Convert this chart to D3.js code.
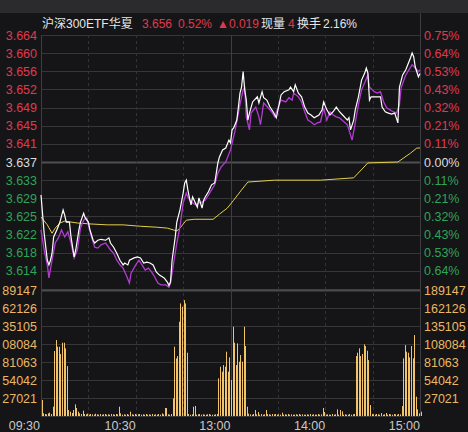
<!DOCTYPE html>
<html><head><meta charset="utf-8">
<script src="https://cdn.jsdelivr.net/npm/d3@7"></script>
<style>
html,body{margin:0;padding:0;background:#151517;overflow:hidden}
svg{display:block}
text{font-family:"Liberation Sans",Arial,"Noto Sans CJK SC",sans-serif}
</style></head><body>
<svg id="c" width="468" height="432"></svg>
<script>
// ---------- data ----------
const prevClose = 3.637;
const maxPct = 0.0075;
const priceTickLabels = ["3.664","3.660","3.656","3.652","3.649","3.645","3.641","3.637","3.633","3.629","3.625","3.622","3.618","3.614"];
const pctTickLabels = ["0.75%","0.64%","0.53%","0.43%","0.32%","0.21%","0.11%","0.00%","0.11%","0.21%","0.32%","0.43%","0.53%","0.64%"];
const volTickValues = [189147,162126,135105,108084,81063,54042,27021];
const timeLabels = ["09:30","10:30","13:00","14:00","15:00"];
const timeLabelMinutes = [0,60,120,180,240];
const gridMinutes = [0,30,60,90,120,150,180,210,240];

// price (white): [minute, price]
const priceSeries = [[0,3.6299],[2,3.6217],[4,3.6159],[5,3.6149],[6,3.6159],[7,3.6174],[8,3.6209],[10,3.6224],[12,3.6241],[14,3.6267],[15,3.6256],[16,3.6241],[18,3.6241],[19,3.6209],[21,3.6166],[22,3.6181],[24,3.6224],[25,3.6241],[27,3.6260],[28,3.6250],[30,3.6241],[31,3.6224],[33,3.6202],[34,3.6196],[36,3.6202],[38,3.6204],[41,3.6202],[43,3.6207],[44,3.6196],[46,3.6187],[48,3.6174],[50,3.6159],[52,3.6149],[53,3.6153],[55,3.6149],[56,3.6159],[59,3.6164],[61,3.6166],[63,3.6164],[65,3.6153],[67,3.6155],[69,3.6153],[71,3.6149],[73,3.6134],[75,3.6127],[78,3.6121],[80,3.6112],[81,3.6105],[82,3.6112],[83,3.6159],[85,3.6209],[86,3.6241],[88,3.6267],[90,3.6303],[91,3.6325],[92,3.6331],[93,3.6310],[94,3.6293],[95,3.6278],[96,3.6295],[97,3.6288],[99,3.6273],[100,3.6293],[101,3.6282],[102,3.6271],[103,3.6288],[104,3.6295],[106,3.6306],[108,3.6321],[110,3.6325],[111,3.6346],[112,3.6368],[113,3.6381],[115,3.6396],[117,3.6400],[119,3.6417],[120,3.6411],[121,3.6439],[122,3.6443],[124,3.6460],[125,3.6488],[126,3.6518],[127,3.6531],[128,3.6564],[129,3.6525],[130,3.6503],[131,3.6460],[132,3.6475],[134,3.6499],[137,3.6510],[138,3.6497],[140,3.6521],[141,3.6508],[143,3.6503],[145,3.6488],[147,3.6478],[149,3.6465],[151,3.6497],[152,3.6514],[154,3.6521],[157,3.6525],[158,3.6531],[160,3.6521],[161,3.6536],[163,3.6518],[165,3.6510],[167,3.6488],[169,3.6475],[171,3.6471],[173,3.6465],[176,3.6471],[178,3.6482],[179,3.6499],[181,3.6482],[183,3.6471],[185,3.6478],[187,3.6488],[189,3.6478],[191,3.6471],[194,3.6460],[195,3.6465],[196,3.6439],[198,3.6460],[199,3.6482],[201,3.6510],[203,3.6546],[205,3.6561],[206,3.6572],[207,3.6561],[208,3.6503],[209,3.6510],[211,3.6510],[215,3.6510],[216,3.6488],[218,3.6478],[220,3.6475],[222,3.6473],[224,3.6475],[226,3.6454],[227,3.6531],[229,3.6557],[231,3.6568],[234,3.6594],[235,3.6604],[236,3.6596],[237,3.6574],[239,3.6553],[240,3.6560]];

// purple reference line: [minute, price]
const iopvSeries = [[0,3.6224],[2,3.6181],[4,3.6149],[5,3.6121],[7,3.6159],[9,3.6196],[11,3.6207],[13,3.6224],[15,3.6209],[17,3.6220],[19,3.6196],[21,3.6164],[23,3.6181],[25,3.6228],[27,3.6245],[29,3.6250],[30,3.6235],[32,3.6209],[34,3.6187],[36,3.6185],[38,3.6192],[41,3.6196],[44,3.6181],[46,3.6174],[48,3.6159],[50,3.6149],[52,3.6142],[54,3.6127],[56,3.6110],[57,3.6131],[60,3.6149],[62,3.6159],[64,3.6149],[66,3.6138],[68,3.6142],[70,3.6134],[72,3.6123],[74,3.6110],[76,3.6106],[79,3.6106],[81,3.6101],[82,3.6110],[84,3.6153],[86,3.6196],[88,3.6230],[90,3.6282],[92,3.6303],[93,3.6295],[95,3.6284],[98,3.6278],[100,3.6282],[102,3.6284],[104,3.6288],[106,3.6299],[108,3.6310],[110,3.6321],[112,3.6346],[114,3.6359],[117,3.6370],[120,3.6396],[123,3.6439],[126,3.6493],[128,3.6525],[129,3.6529],[130,3.6467],[132,3.6439],[133,3.6475],[136,3.6488],[138,3.6467],[139,3.6450],[141,3.6497],[144,3.6486],[146,3.6478],[148,3.6467],[150,3.6486],[152,3.6503],[155,3.6499],[157,3.6508],[159,3.6503],[160,3.6518],[163,3.6510],[165,3.6499],[167,3.6478],[169,3.6460],[171,3.6456],[173,3.6450],[175,3.6454],[177,3.6456],[179,3.6486],[181,3.6460],[183,3.6478],[185,3.6471],[187,3.6467],[189,3.6465],[192,3.6456],[194,3.6450],[195,3.6439],[197,3.6417],[199,3.6454],[201,3.6493],[203,3.6525],[205,3.6540],[207,3.6557],[208,3.6531],[211,3.6521],[213,3.6518],[215,3.6521],[217,3.6499],[219,3.6486],[221,3.6482],[223,3.6478],[225,3.6475],[227,3.6493],[228,3.6529],[231,3.6557],[233,3.6568],[235,3.6579],[237,3.6572],[239,3.6564],[240,3.6568]];

// average price (yellow): [minute, price]
const avgSeries = [[0,3.6252],[4,3.6235],[7,3.6217],[9,3.6228],[12,3.6239],[15,3.6243],[23,3.6239],[31,3.6237],[42,3.6235],[52,3.6235],[63,3.6232],[73,3.6230],[80,3.6228],[84,3.6224],[86,3.6222],[88,3.6228],[92,3.6245],[97,3.6247],[109,3.6247],[113,3.6258],[118,3.6271],[122,3.6288],[127,3.6310],[131,3.6327],[148,3.6331],[177,3.6331],[198,3.6336],[207,3.6368],[226,3.6370],[234,3.6389],[238,3.6400],[240,3.6400]];

// volume per minute (241 values)
const volumes = [
24000,4000,3000,2500,4000,5000,3000,14000,97600,114000,
104000,104000,93000,110000,110000,101600,75000,9000,6500,4500,
9000,17500,12000,6500,4000,3000,8000,3000,2500,3500,
2000,3000,2500,2000,3500,2500,2000,3000,2000,2500,
3000,2000,2500,2000,3000,2500,2000,3000,2500,14000,
4000,2000,2500,2000,3000,2000,6500,2500,2000,3000,
2000,2500,3000,2000,2500,2000,3000,2000,2500,2000,
3000,2000,2500,2000,3000,2000,4000,2500,12000,12000,
2500,2000,3000,26500,104000,86500,90000,141500,169000,164000,
174000,169000,95000,3000,2000,2500,14000,15000,2000,2500,
3000,2000,2500,2000,2000,2500,3000,2000,2000,2000,
2500,3000,56500,74000,66500,76500,74000,96500,66500,88000,54000,
134000,110000,76500,109000,81500,91500,81500,134000,105000,14000,
3500,2500,2000,3000,9000,2500,6000,2000,3000,2000,
2500,9000,3000,2500,2000,3000,2500,3000,2000,2500,
2000,5000,2000,2500,2000,3000,2000,2500,2000,2000,
2500,2000,3000,2000,2500,2000,2000,2500,2000,3000,
2000,2500,2000,2000,3000,2000,2500,12000,6000,2000,
2500,2000,2000,3000,2000,2500,10000,2000,9000,7000,
2000,2500,2000,2000,3000,2000,2500,3000,90000,95000,
101600,90000,93000,107600,105000,98000,84000,16500,3000,2500,
2000,3000,2500,2000,4500,2000,2500,4500,2000,3000,
2500,2000,3000,2500,2000,3000,2500,15000,86500,106500,
96500,95000,88000,105000,86500,121500,29000,10000,4000,6500];
const volMax = 189147;

// header pieces and their left x positions
const headerTexts = ["沪深300ETF华夏","3.656","0.52%","▲0.019","现量","4","换手","2.16%"];
const headerColors = ["#e6e6e6","#e0394f","#e0394f","#e0394f","#e6e6e6","#e0394f","#e6e6e6","#e6e6e6"];
const headerX = [42,142,178,217,261,288,297,323];

// ---------- layout ----------
const L = 41, R = 420, PT = 35, PB = 289, VT = 290, VB = 416;
const RED = "#e0394f", GREEN = "#2fa35a", NEUT = "#dcdcdc", GOLD = "#e9b865", GRID = "#363638";

const svg = d3.select("#c");
svg.append("rect").attr("width",468).attr("height",432).attr("fill","#151517");
svg.append("rect").attr("width",468).attr("height",13).attr("fill","#2b2b2d");

const x = d3.scaleLinear().domain([0,240]).range([L,R]);
const y = d3.scaleLinear().domain([prevClose*(1-maxPct), prevClose*(1+maxPct)]).range([PB,PT]);
const yv = d3.scaleLinear().domain([0, volMax]).range([VB, VT]);

// horizontal grid (price)
const nSteps = 14;
const priceTickVals = d3.range(0, nSteps+1).map(i => prevClose*(1+maxPct*(7-i)/7));
const g = svg.append("g");
priceTickVals.forEach((v,i) => {
  const yy = Math.round(y(v)) + 0.5;
  g.append("line").attr("x1",L).attr("x2",R).attr("y1",yy).attr("y2",yy)
   .attr("stroke", i===7 ? "#505052" : GRID).attr("stroke-width", i===7 ? 2 : 1);
});
// volume grid
d3.range(0,8).forEach(k => {
  const yy = Math.round(yv(k*27021)) + 0.5;
  g.append("line").attr("x1",L).attr("x2",R).attr("y1",yy).attr("y2",yy)
   .attr("stroke", k===7 ? "#4a4a4c" : GRID).attr("stroke-width", k===7 ? 2 : 1);
});
// vertical grid
gridMinutes.forEach(m => {
  const xx = Math.round(x(m)) + 0.5;
  const solid = (m===0 || m===120 || m===240);
  g.append("line").attr("x1",xx).attr("x2",xx).attr("y1", m===240 ? 13 : PT).attr("y2",VB)
   .attr("stroke", solid ? "#3e3e40" : "#333335").attr("stroke-width",1)
   .attr("stroke-dasharray", solid ? null : "3,3");
});

// volume bars
svg.append("g").selectAll("rect").data(volumes).join("rect")
  .attr("x",(d,i)=>Math.round(x(i)+0.5))
  .attr("width",1)
  .attr("y",d=>yv(d))
  .attr("height",d=>VB - yv(d))
  .attr("fill","#f2c46a");

// lines
const line = d3.line().x(d=>x(d[0])).y(d=>y(d[1]));
svg.append("path").datum(avgSeries).attr("d",line).attr("fill","none").attr("stroke","#e2cf4a").attr("stroke-width",1);
svg.append("path").datum(iopvSeries).attr("d",line).attr("fill","none").attr("stroke","#b43ad4").attr("stroke-width",1.3);
svg.append("path").datum(priceSeries).attr("d",line).attr("fill","none").attr("stroke","#ffffff").attr("stroke-width",1.2);

// axis labels
const fs = 12.5;
priceTickLabels.forEach((t,i) => {
  const col = i<7 ? RED : (i===7 ? NEUT : GREEN);
  svg.append("text").attr("x",37).attr("y",y(priceTickVals[i])).attr("dy","0.36em")
    .attr("text-anchor","end").attr("font-size",fs).attr("fill",col).text(t);
  svg.append("text").attr("x",424).attr("y",y(priceTickVals[i])).attr("dy","0.36em")
    .attr("text-anchor","start").attr("font-size",fs).attr("fill",col).text(pctTickLabels[i]);
});
volTickValues.forEach(v => {
  // left side shows only the last five digits (as in the original, which is clipped)
  svg.append("text").attr("x",37).attr("y",yv(v)).attr("dy","0.36em")
    .attr("text-anchor","end").attr("font-size",fs).attr("fill",GOLD).text(String(v).slice(-5));
  svg.append("text").attr("x",424).attr("y",yv(v)).attr("dy","0.36em")
    .attr("text-anchor","start").attr("font-size",fs).attr("fill",GOLD).text(String(v));
});
// time labels
timeLabels.forEach((t,i) => {
  const m = timeLabelMinutes[i];
  svg.append("text").attr("x", m===0 ? 40 : x(m)).attr("y",430)
    .attr("text-anchor","end").attr("font-size",fs).attr("fill","#c8c8c8").text(t);
});

// header
headerTexts.forEach((t,i) => {
  svg.append("text").attr("x",headerX[i]).attr("y",28).attr("font-size",12)
    .attr("fill",headerColors[i]).text(t);
});
</script>
</body></html>
